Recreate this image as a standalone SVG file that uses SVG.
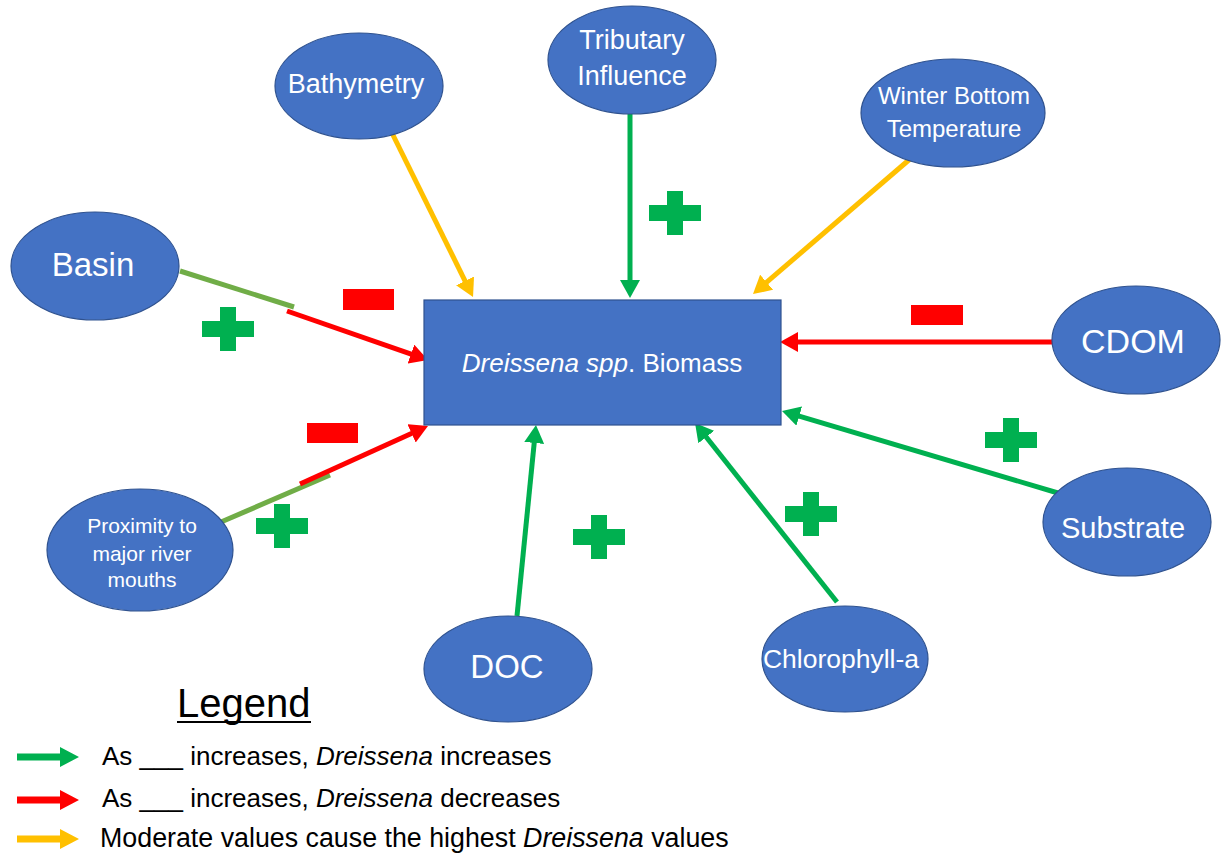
<svg xmlns="http://www.w3.org/2000/svg" xmlns:xlink="http://www.w3.org/1999/xlink" width="1223" height="855" viewBox="0 0 1223 855">
<style>
.node{fill:#4472C4;stroke:#2F528F;stroke-width:1.2}
.lbl{fill:#FFFFFF;font-family:"Liberation Sans",Arial,sans-serif;text-anchor:middle}
.leg{fill:#000000;font-family:"Liberation Sans",Arial,sans-serif;font-size:26px}
.g{stroke:#00B050;stroke-width:5;fill:none}
.r{stroke:#FF0000;stroke-width:5;fill:none}
.y{stroke:#FFC000;stroke-width:5;fill:none}
.lg{stroke:#70AD47;stroke-width:5;fill:none}
</style>
<defs>
<marker id="ag" viewBox="0 0 18 20" refX="1" refY="10" markerWidth="18" markerHeight="20" markerUnits="userSpaceOnUse" orient="auto"><path d="M0,0 L18,10 L0,20 Z" fill="#00B050"/></marker>
<marker id="ar" viewBox="0 0 18 20" refX="1" refY="10" markerWidth="18" markerHeight="20" markerUnits="userSpaceOnUse" orient="auto"><path d="M0,0 L18,10 L0,20 Z" fill="#FF0000"/></marker>
<marker id="ay" viewBox="0 0 18 20" refX="1" refY="10" markerWidth="18" markerHeight="20" markerUnits="userSpaceOnUse" orient="auto"><path d="M0,0 L18,10 L0,20 Z" fill="#FFC000"/></marker>
<path id="plus" d="M-26,-8 H-8 V-22 H8 V-8 H26 V8 H8 V22 H-8 V8 H-26 Z" fill="#00B050"/>
<path id="legarrow" d="M0,-3.5 H43 V-10 L62,0 L43,10 V3.5 H0 Z"/>
</defs>
<rect width="1223" height="855" fill="#FFFFFF"/>

<g id="connectors">
<line class="y" x1="392" y1="133" x2="465.5" y2="281.8" marker-end="url(#ay)"/>
<line class="g" x1="630" y1="114" x2="630" y2="281" marker-end="url(#ag)"/>
<line class="y" x1="910" y1="159" x2="765.9" y2="282.9" marker-end="url(#ay)"/>
<line class="r" x1="1053" y1="342" x2="797" y2="342" marker-end="url(#ar)"/>
<line class="g" x1="1058" y1="493" x2="798.3" y2="415.8" marker-end="url(#ag)"/>
<line class="g" x1="837" y1="602" x2="705.6" y2="436.3" marker-end="url(#ag)"/>
<line class="g" x1="517" y1="616" x2="534.3" y2="441.9" marker-end="url(#ag)"/>
<line class="lg" x1="180" y1="271" x2="294" y2="307"/>
<line class="r" x1="287" y1="311" x2="411.9" y2="354.4" marker-end="url(#ar)"/>
<line class="lg" x1="221" y1="522" x2="330" y2="475"/>
<line class="r" x1="300" y1="484" x2="412.5" y2="433" marker-end="url(#ar)"/>
</g>

<g id="signs">
<use xlink:href="#plus" href="#plus" x="228" y="329"/>
<use xlink:href="#plus" href="#plus" x="282" y="526"/>
<use xlink:href="#plus" href="#plus" x="675" y="213"/>
<use xlink:href="#plus" href="#plus" x="1011" y="440"/>
<use xlink:href="#plus" href="#plus" x="811" y="514"/>
<use xlink:href="#plus" href="#plus" x="599" y="537"/>
<rect x="343" y="289" width="51" height="21" fill="#FF0000"/>
<rect x="307" y="423" width="51" height="20" fill="#FF0000"/>
<rect x="911" y="305" width="52" height="20" fill="#FF0000"/>
</g>

<g id="biomass">
<rect class="node" x="424" y="300" width="357" height="125"/>
<text class="lbl" x="602" y="372" font-size="26"><tspan font-style="italic">Dreissena spp</tspan>. Biomass</text>
</g>
<g id="basin">
<ellipse class="node" cx="95" cy="266" rx="84" ry="54"/>
<text class="lbl" x="93" y="276" font-size="33">Basin</text>
</g>
<g id="bathymetry">
<ellipse class="node" cx="359" cy="86" rx="84" ry="53"/>
<text class="lbl" x="356" y="93" font-size="27">Bathymetry</text>
</g>
<g id="tributary">
<ellipse class="node" cx="632" cy="60" rx="84" ry="54"/>
<text class="lbl" x="632" y="49" font-size="27">Tributary</text>
<text class="lbl" x="632" y="85" font-size="27">Influence</text>
</g>
<g id="winter">
<ellipse class="node" cx="953" cy="113" rx="92" ry="54"/>
<text class="lbl" x="954" y="104" font-size="24">Winter Bottom</text>
<text class="lbl" x="954" y="137" font-size="24">Temperature</text>
</g>
<g id="cdom">
<ellipse class="node" cx="1136" cy="340" rx="84" ry="54"/>
<text class="lbl" x="1133" y="353" font-size="34">CDOM</text>
</g>
<g id="substrate">
<ellipse class="node" cx="1127" cy="522" rx="84" ry="54"/>
<text class="lbl" x="1123" y="538" font-size="29">Substrate</text>
</g>
<g id="doc">
<ellipse class="node" cx="508" cy="669" rx="84" ry="53"/>
<text class="lbl" x="507" y="678" font-size="33">DOC</text>
</g>
<g id="chlorophyll">
<ellipse class="node" cx="845" cy="659" rx="83" ry="53"/>
<text class="lbl" x="841" y="668" font-size="26.5">Chlorophyll-a</text>
</g>
<g id="proximity">
<ellipse class="node" cx="140" cy="550" rx="93" ry="61"/>
<text class="lbl" x="142" y="533" font-size="21">Proximity to</text>
<text class="lbl" x="142" y="561" font-size="21">major river</text>
<text class="lbl" x="142" y="587" font-size="21">mouths</text>
</g>

<g id="legend">
<text x="177" y="717" font-family="'Liberation Sans',Arial,sans-serif" font-size="40" fill="#000000">Legend</text>
<line x1="177" y1="722" x2="311" y2="722" stroke="#000000" stroke-width="2"/>
<use xlink:href="#legarrow" href="#legarrow" x="17" y="757" fill="#00B050"/>
<use xlink:href="#legarrow" href="#legarrow" x="17" y="800" fill="#FF0000"/>
<use xlink:href="#legarrow" href="#legarrow" x="17" y="839" fill="#FFC000"/>
<text class="leg" x="102" y="765">As ___ increases, <tspan font-style="italic">Dreissena</tspan> increases</text>
<text class="leg" x="102" y="807">As ___ increases, <tspan font-style="italic">Dreissena</tspan> decreases</text>
<text class="leg" x="100" y="847" style="font-size:26.8px">Moderate values cause the highest <tspan font-style="italic">Dreissena</tspan> values</text>
</g>
</svg>
